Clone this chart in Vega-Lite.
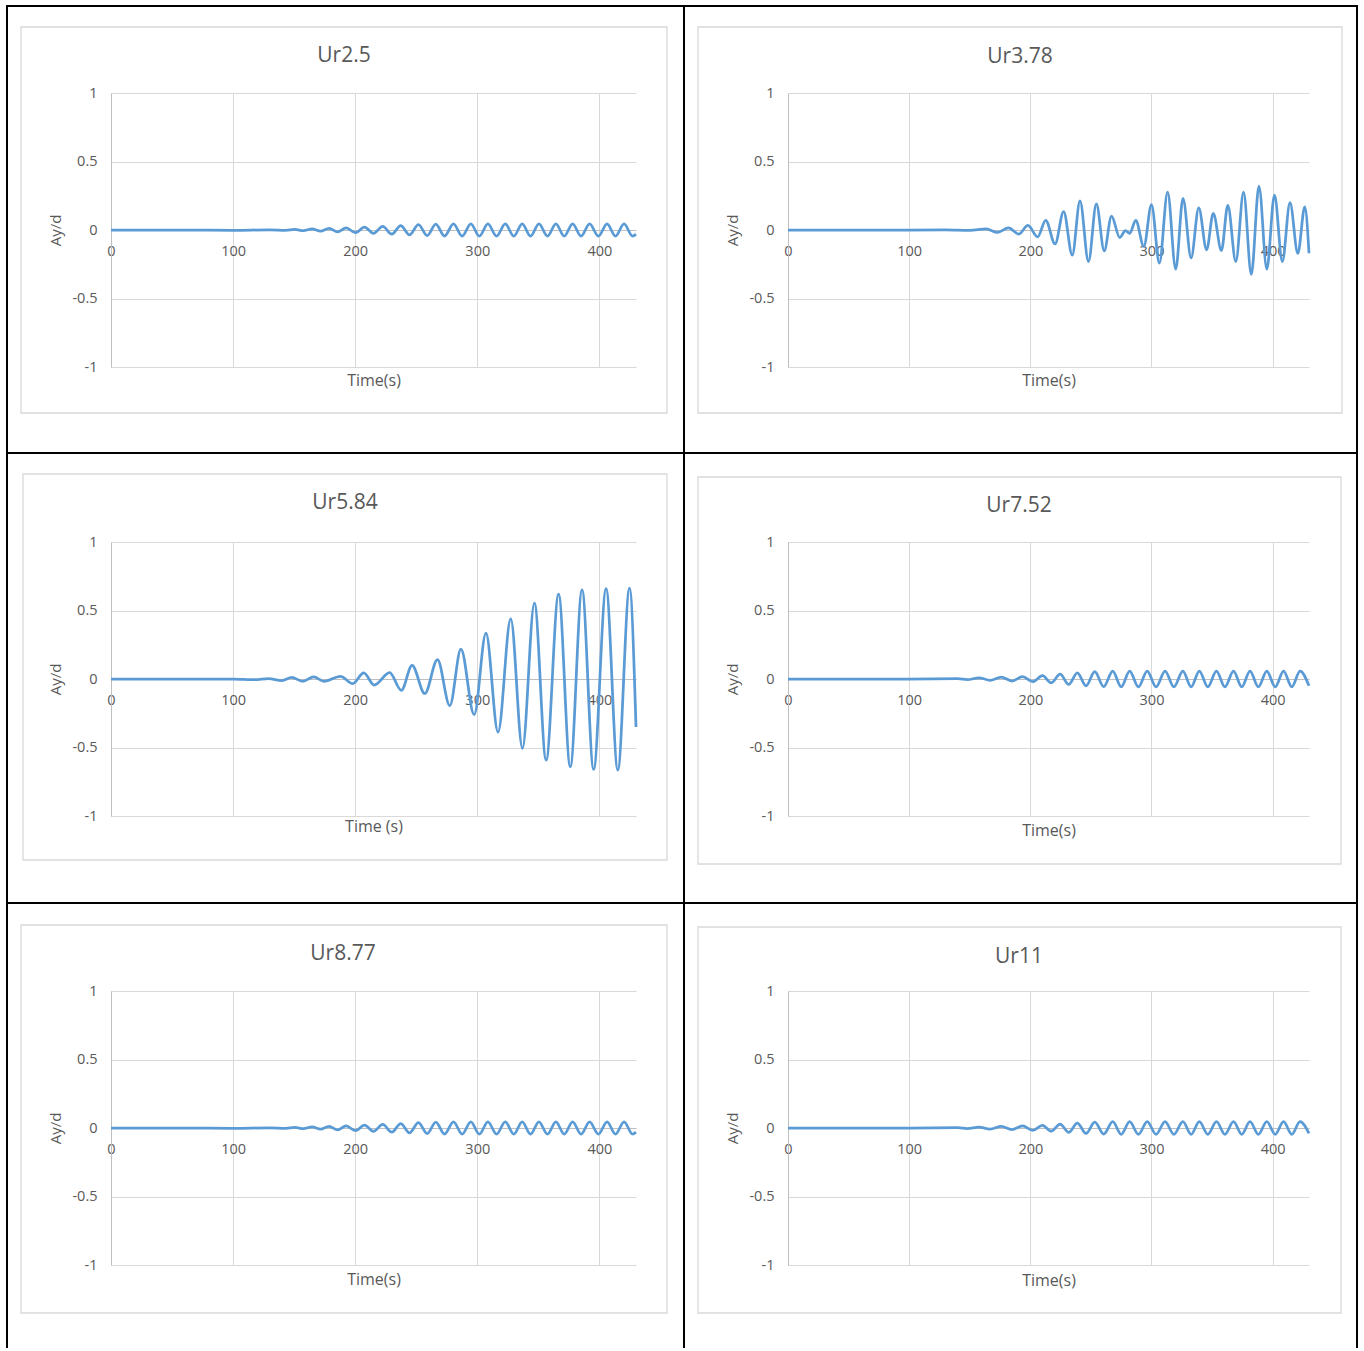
{
  "$schema": "https://vega.github.io/schema/vega-lite/v6.json",
  "background": "white",
  "padding": {"left": 6, "top": 5, "right": 0, "bottom": 0},
  "columns": 2,
  "spacing": {"row": 175, "column": 152},
  "bounds": "flush",
  "datasets": {
    "one": [{}],
    "p1": [
      {"t": 0, "y": 0}, {"t": 60, "y": 0}, {"t": 100, "y": -0.002}, {"t": 130, "y": 0.001}, {"t": 143, "y": -0.003},
      {"t": 150.6, "y": 0.004}, {"t": 157.6, "y": -0.005}, {"t": 164.6, "y": 0.008}, {"t": 171.6, "y": -0.009},
      {"t": 178.6, "y": 0.012}, {"t": 185.6, "y": -0.013}, {"t": 192.6, "y": 0.016}, {"t": 200.1, "y": -0.02},
      {"t": 207.7, "y": 0.021}, {"t": 215, "y": -0.024}, {"t": 222.5, "y": 0.026}, {"t": 230, "y": -0.03},
      {"t": 237.3, "y": 0.032}, {"t": 244.5, "y": -0.036}, {"t": 251.8, "y": 0.039}, {"t": 259, "y": -0.041},
      {"t": 266, "y": 0.043}, {"t": 273.2, "y": -0.044}, {"t": 280.5, "y": 0.045}, {"t": 287.6, "y": -0.045},
      {"t": 294.7, "y": 0.045}, {"t": 301.7, "y": -0.045}, {"t": 308.7, "y": 0.045}, {"t": 315.8, "y": -0.045},
      {"t": 322.9, "y": 0.045}, {"t": 329.9, "y": -0.045}, {"t": 336.8, "y": 0.045}, {"t": 343.6, "y": -0.045},
      {"t": 350.5, "y": 0.045}, {"t": 357.5, "y": -0.045}, {"t": 364.4, "y": 0.045}, {"t": 371.2, "y": -0.045},
      {"t": 378.1, "y": 0.045}, {"t": 385, "y": -0.045}, {"t": 392, "y": 0.045}, {"t": 399.2, "y": -0.045},
      {"t": 406.3, "y": 0.045}, {"t": 413.2, "y": -0.045}, {"t": 420.2, "y": 0.045}, {"t": 427.2, "y": -0.045},
      {"t": 430, "y": -0.03}
    ],
    "p2": [
      {"t": 0, "y": 0}, {"t": 100, "y": 0}, {"t": 130, "y": 0.001}, {"t": 150, "y": -0.003}, {"t": 163.5, "y": 0.008},
      {"t": 173, "y": -0.018}, {"t": 182, "y": 0.015}, {"t": 190.5, "y": -0.03}, {"t": 198, "y": 0.033},
      {"t": 206, "y": -0.05}, {"t": 212.7, "y": 0.071}, {"t": 220.4, "y": -0.102}, {"t": 227.5, "y": 0.135},
      {"t": 234.6, "y": -0.184}, {"t": 241, "y": 0.212}, {"t": 248, "y": -0.23}, {"t": 254.5, "y": 0.191},
      {"t": 261, "y": -0.153}, {"t": 267, "y": 0.102}, {"t": 273.8, "y": -0.055}, {"t": 278.5, "y": -0.005},
      {"t": 282, "y": -0.025}, {"t": 287, "y": 0.07}, {"t": 293.7, "y": -0.12}, {"t": 300, "y": 0.186},
      {"t": 306.5, "y": -0.242}, {"t": 313.3, "y": 0.276}, {"t": 320, "y": -0.286}, {"t": 326, "y": 0.23},
      {"t": 332.7, "y": -0.204}, {"t": 339, "y": 0.161}, {"t": 345.5, "y": -0.145}, {"t": 351, "y": 0.122},
      {"t": 357.7, "y": -0.15}, {"t": 363, "y": 0.179}, {"t": 369.6, "y": -0.23}, {"t": 376, "y": 0.276},
      {"t": 382.4, "y": -0.324}, {"t": 388.7, "y": 0.321}, {"t": 395.2, "y": -0.286}, {"t": 401.5, "y": 0.255},
      {"t": 408, "y": -0.23}, {"t": 414.3, "y": 0.199}, {"t": 420.8, "y": -0.171}, {"t": 426.5, "y": 0.168},
      {"t": 430, "y": -0.17}
    ],
    "p3": [
      {"t": 0, "y": 0}, {"t": 100, "y": 0}, {"t": 118, "y": -0.005}, {"t": 129, "y": 0.003}, {"t": 140, "y": -0.012},
      {"t": 148, "y": 0.012}, {"t": 157, "y": -0.017}, {"t": 166, "y": 0.015}, {"t": 174.5, "y": -0.017},
      {"t": 188, "y": 0.02}, {"t": 198, "y": -0.034}, {"t": 207, "y": 0.044}, {"t": 215.6, "y": -0.044},
      {"t": 228.2, "y": 0.046}, {"t": 237.8, "y": -0.083}, {"t": 246.6, "y": 0.1}, {"t": 257, "y": -0.107},
      {"t": 267.4, "y": 0.141}, {"t": 277.5, "y": -0.194}, {"t": 286.6, "y": 0.218}, {"t": 297.5, "y": -0.26},
      {"t": 307.1, "y": 0.335}, {"t": 317, "y": -0.388}, {"t": 327.4, "y": 0.439}, {"t": 337, "y": -0.507},
      {"t": 346.8, "y": 0.553}, {"t": 356.4, "y": -0.592}, {"t": 366.6, "y": 0.619}, {"t": 376.2, "y": -0.641},
      {"t": 385.8, "y": 0.65}, {"t": 395.3, "y": -0.66}, {"t": 405.5, "y": 0.66}, {"t": 415.1, "y": -0.665},
      {"t": 424.7, "y": 0.663}, {"t": 430, "y": -0.35}
    ],
    "p4": [
      {"t": 0, "y": 0}, {"t": 100, "y": 0}, {"t": 140, "y": 0.002}, {"t": 148, "y": -0.005}, {"t": 157.6, "y": 0.009},
      {"t": 166.8, "y": -0.01}, {"t": 176, "y": 0.014}, {"t": 184.8, "y": -0.015}, {"t": 193.6, "y": 0.018},
      {"t": 202, "y": -0.02}, {"t": 210, "y": 0.024}, {"t": 217.3, "y": -0.028}, {"t": 224.6, "y": 0.035},
      {"t": 231.7, "y": -0.04}, {"t": 238.8, "y": 0.045}, {"t": 246, "y": -0.05}, {"t": 253.2, "y": 0.053},
      {"t": 260.6, "y": -0.056}, {"t": 268, "y": 0.058}, {"t": 275, "y": -0.058}, {"t": 282, "y": 0.058},
      {"t": 289.2, "y": -0.058}, {"t": 296.5, "y": 0.058}, {"t": 303.8, "y": -0.058}, {"t": 311.2, "y": 0.058},
      {"t": 318.5, "y": -0.058}, {"t": 325.9, "y": 0.058}, {"t": 332.7, "y": -0.058}, {"t": 339.5, "y": 0.058},
      {"t": 346.5, "y": -0.058}, {"t": 353.6, "y": 0.058}, {"t": 360.6, "y": -0.058}, {"t": 367.7, "y": 0.058},
      {"t": 374.5, "y": -0.058}, {"t": 381.3, "y": 0.058}, {"t": 388.2, "y": -0.058}, {"t": 395.2, "y": 0.058},
      {"t": 402.1, "y": -0.058}, {"t": 409, "y": 0.058}, {"t": 415.8, "y": -0.058}, {"t": 422.6, "y": 0.058},
      {"t": 430, "y": -0.05}
    ],
    "p5": [
      {"t": 0, "y": 0}, {"t": 60, "y": 0}, {"t": 100, "y": -0.002}, {"t": 130, "y": 0.001}, {"t": 143, "y": -0.003},
      {"t": 150.6, "y": 0.004}, {"t": 157.6, "y": -0.005}, {"t": 164.6, "y": 0.008}, {"t": 171.6, "y": -0.009},
      {"t": 178.6, "y": 0.012}, {"t": 185.6, "y": -0.013}, {"t": 192.6, "y": 0.016}, {"t": 200.1, "y": -0.02},
      {"t": 207.7, "y": 0.021}, {"t": 215, "y": -0.024}, {"t": 222.5, "y": 0.026}, {"t": 230, "y": -0.03},
      {"t": 237.3, "y": 0.032}, {"t": 244.5, "y": -0.036}, {"t": 251.8, "y": 0.039}, {"t": 259, "y": -0.041},
      {"t": 266, "y": 0.043}, {"t": 273.2, "y": -0.044}, {"t": 280.5, "y": 0.045}, {"t": 287.6, "y": -0.045},
      {"t": 294.7, "y": 0.045}, {"t": 301.7, "y": -0.045}, {"t": 308.7, "y": 0.045}, {"t": 315.8, "y": -0.045},
      {"t": 322.9, "y": 0.045}, {"t": 329.9, "y": -0.045}, {"t": 336.8, "y": 0.045}, {"t": 343.6, "y": -0.045},
      {"t": 350.5, "y": 0.045}, {"t": 357.5, "y": -0.045}, {"t": 364.4, "y": 0.045}, {"t": 371.2, "y": -0.045},
      {"t": 378.1, "y": 0.045}, {"t": 385, "y": -0.045}, {"t": 392, "y": 0.045}, {"t": 399.2, "y": -0.045},
      {"t": 406.3, "y": 0.045}, {"t": 413.2, "y": -0.045}, {"t": 420.2, "y": 0.045}, {"t": 427.2, "y": -0.045},
      {"t": 430, "y": -0.03}
    ],
    "p6": [
      {"t": 0, "y": 0}, {"t": 100, "y": 0}, {"t": 140, "y": 0.002}, {"t": 148, "y": -0.004}, {"t": 157.6, "y": 0.007},
      {"t": 166.8, "y": -0.008}, {"t": 176, "y": 0.011}, {"t": 184.8, "y": -0.012}, {"t": 193.6, "y": 0.015},
      {"t": 202, "y": -0.017}, {"t": 210, "y": 0.02}, {"t": 217.3, "y": -0.023}, {"t": 224.6, "y": 0.028},
      {"t": 231.7, "y": -0.032}, {"t": 238.8, "y": 0.036}, {"t": 246, "y": -0.04}, {"t": 253.2, "y": 0.042},
      {"t": 260.6, "y": -0.045}, {"t": 268, "y": 0.046}, {"t": 275, "y": -0.046}, {"t": 282, "y": 0.046},
      {"t": 289.2, "y": -0.046}, {"t": 296.5, "y": 0.046}, {"t": 303.8, "y": -0.046}, {"t": 311.2, "y": 0.046},
      {"t": 318.5, "y": -0.046}, {"t": 325.9, "y": 0.046}, {"t": 332.7, "y": -0.046}, {"t": 339.5, "y": 0.046},
      {"t": 346.5, "y": -0.046}, {"t": 353.6, "y": 0.046}, {"t": 360.6, "y": -0.046}, {"t": 367.7, "y": 0.046},
      {"t": 374.5, "y": -0.046}, {"t": 381.3, "y": 0.046}, {"t": 388.2, "y": -0.046}, {"t": 395.2, "y": 0.046},
      {"t": 402.1, "y": -0.046}, {"t": 409, "y": 0.046}, {"t": 415.8, "y": -0.046}, {"t": 422.6, "y": 0.046},
      {"t": 430, "y": -0.04}
    ]
  },
  "concat": [
    {
      "width": 525, "height": 274,
      "layer": [
        {"data": {"name": "one"}, "mark": {"type": "rect", "filled": false, "stroke": "#000000", "strokeWidth": 2},
         "encoding": {"x": {"datum": -85.18, "type": "quantitative", "scale": {"domain": [0, 430], "nice": false, "zero": false}}, "x2": {"datum": 469.31},
                      "y": {"datum": 1.635, "type": "quantitative", "scale": {"domain": [-1, 1], "nice": false, "zero": false}}, "y2": {"datum": -1.6277}}},
        {"data": {"name": "one"}, "mark": {"type": "rect", "filled": false, "stroke": "#d9d9d9", "strokeWidth": 1.3},
         "encoding": {"x": {"datum": -73.71, "type": "quantitative", "scale": {"domain": [0, 430], "nice": false, "zero": false}}, "x2": {"datum": 455.38},
                      "y": {"datum": 1.4818, "type": "quantitative", "scale": {"domain": [-1, 1], "nice": false, "zero": false}}, "y2": {"datum": -1.3358}}},
        {"data": {"name": "one"}, "mark": {"type": "text", "text": "Ur2.5", "fontSize": 21, "color": "#595959", "font": "Open Sans", "baseline": "middle", "align": "center"},
         "encoding": {"x": {"datum": 190.84, "type": "quantitative", "scale": {"domain": [0, 430], "nice": false, "zero": false}},
                      "y": {"datum": 1.2701, "type": "quantitative", "scale": {"domain": [-1, 1], "nice": false, "zero": false}}}},
        {"data": {"name": "p1"},
         "mark": {"type": "line", "color": "#5b9bd5", "strokeWidth": 2.75, "interpolate": "monotone"},
         "encoding": {
           "x": {"field": "t", "type": "quantitative", "scale": {"domain": [0, 430], "nice": false, "zero": false},
                 "axis": {"values": [0, 100, 200, 300, 400], "labelExpr": "'' + datum.value", "title": "Time(s)", "offset": -137, "titleY": 150, "titleBaseline": "middle", "grid": true}},
           "y": {"field": "y", "type": "quantitative", "scale": {"domain": [-1, 1], "nice": false, "zero": false},
                 "axis": {"values": [-1, -0.5, 0, 0.5, 1], "labelExpr": "'' + datum.value", "title": "Ay/d", "titleX": -56, "titleBaseline": "middle", "grid": true}}
         }}
      ]
    },
    {
      "width": 521, "height": 274,
      "layer": [
        {"data": {"name": "one"}, "mark": {"type": "rect", "filled": false, "stroke": "#000000", "strokeWidth": 2},
         "encoding": {"x": {"datum": -85.83, "type": "quantitative", "scale": {"domain": [0, 430], "nice": false, "zero": false}}, "x2": {"datum": 469.62},
                      "y": {"datum": 1.635, "type": "quantitative", "scale": {"domain": [-1, 1], "nice": false, "zero": false}}, "y2": {"datum": -1.6277}}},
        {"data": {"name": "one"}, "mark": {"type": "rect", "filled": false, "stroke": "#d9d9d9", "strokeWidth": 1.3},
         "encoding": {"x": {"datum": -74.28, "type": "quantitative", "scale": {"domain": [0, 430], "nice": false, "zero": false}}, "x2": {"datum": 457.24},
                      "y": {"datum": 1.4818, "type": "quantitative", "scale": {"domain": [-1, 1], "nice": false, "zero": false}}, "y2": {"datum": -1.3358}}},
        {"data": {"name": "one"}, "mark": {"type": "text", "text": "Ur3.78", "fontSize": 21, "color": "#595959", "font": "Open Sans", "baseline": "middle", "align": "center"},
         "encoding": {"x": {"datum": 191.48, "type": "quantitative", "scale": {"domain": [0, 430], "nice": false, "zero": false}},
                      "y": {"datum": 1.2628, "type": "quantitative", "scale": {"domain": [-1, 1], "nice": false, "zero": false}}}},
        {"data": {"name": "p2"},
         "mark": {"type": "line", "color": "#5b9bd5", "strokeWidth": 2.75, "interpolate": "monotone"},
         "encoding": {
           "x": {"field": "t", "type": "quantitative", "scale": {"domain": [0, 430], "nice": false, "zero": false},
                 "axis": {"values": [0, 100, 200, 300, 400], "labelExpr": "'' + datum.value", "title": "Time(s)", "offset": -137, "titleY": 150, "titleBaseline": "middle", "grid": true}},
           "y": {"field": "y", "type": "quantitative", "scale": {"domain": [-1, 1], "nice": false, "zero": false},
                 "axis": {"values": [-1, -0.5, 0, 0.5, 1], "labelExpr": "'' + datum.value", "title": "Ay/d", "titleX": -56, "titleBaseline": "middle", "grid": true}}
         }}
      ]
    },
    {
      "width": 525, "height": 274,
      "layer": [
        {"data": {"name": "one"}, "mark": {"type": "rect", "filled": false, "stroke": "#000000", "strokeWidth": 2},
         "encoding": {"x": {"datum": -85.18, "type": "quantitative", "scale": {"domain": [0, 430], "nice": false, "zero": false}}, "x2": {"datum": 469.31},
                      "y": {"datum": 1.6496, "type": "quantitative", "scale": {"domain": [-1, 1], "nice": false, "zero": false}}, "y2": {"datum": -1.635}}},
        {"data": {"name": "one"}, "mark": {"type": "rect", "filled": false, "stroke": "#d9d9d9", "strokeWidth": 1.3},
         "encoding": {"x": {"datum": -72.08, "type": "quantitative", "scale": {"domain": [0, 430], "nice": false, "zero": false}}, "x2": {"datum": 455.38},
                      "y": {"datum": 1.4964, "type": "quantitative", "scale": {"domain": [-1, 1], "nice": false, "zero": false}}, "y2": {"datum": -1.3212}}},
        {"data": {"name": "one"}, "mark": {"type": "text", "text": "Ur5.84", "fontSize": 21, "color": "#595959", "font": "Open Sans", "baseline": "middle", "align": "center"},
         "encoding": {"x": {"datum": 191.66, "type": "quantitative", "scale": {"domain": [0, 430], "nice": false, "zero": false}},
                      "y": {"datum": 1.2847, "type": "quantitative", "scale": {"domain": [-1, 1], "nice": false, "zero": false}}}},
        {"data": {"name": "p3"},
         "mark": {"type": "line", "color": "#5b9bd5", "strokeWidth": 2.75, "interpolate": "monotone"},
         "encoding": {
           "x": {"field": "t", "type": "quantitative", "scale": {"domain": [0, 430], "nice": false, "zero": false},
                 "axis": {"values": [0, 100, 200, 300, 400], "labelExpr": "'' + datum.value", "title": "Time (s)", "offset": -137, "titleY": 147, "titleBaseline": "middle", "grid": true}},
           "y": {"field": "y", "type": "quantitative", "scale": {"domain": [-1, 1], "nice": false, "zero": false},
                 "axis": {"values": [-1, -0.5, 0, 0.5, 1], "labelExpr": "'' + datum.value", "title": "Ay/d", "titleX": -56, "titleBaseline": "middle", "grid": true}}
         }}
      ]
    },
    {
      "width": 521, "height": 274,
      "layer": [
        {"data": {"name": "one"}, "mark": {"type": "rect", "filled": false, "stroke": "#000000", "strokeWidth": 2},
         "encoding": {"x": {"datum": -85.83, "type": "quantitative", "scale": {"domain": [0, 430], "nice": false, "zero": false}}, "x2": {"datum": 469.62},
                      "y": {"datum": 1.6496, "type": "quantitative", "scale": {"domain": [-1, 1], "nice": false, "zero": false}}, "y2": {"datum": -1.635}}},
        {"data": {"name": "one"}, "mark": {"type": "rect", "filled": false, "stroke": "#d9d9d9", "strokeWidth": 1.3},
         "encoding": {"x": {"datum": -74.28, "type": "quantitative", "scale": {"domain": [0, 430], "nice": false, "zero": false}}, "x2": {"datum": 456.41},
                      "y": {"datum": 1.4745, "type": "quantitative", "scale": {"domain": [-1, 1], "nice": false, "zero": false}}, "y2": {"datum": -1.3504}}},
        {"data": {"name": "one"}, "mark": {"type": "text", "text": "Ur7.52", "fontSize": 21, "color": "#595959", "font": "Open Sans", "baseline": "middle", "align": "center"},
         "encoding": {"x": {"datum": 190.65, "type": "quantitative", "scale": {"domain": [0, 430], "nice": false, "zero": false}},
                      "y": {"datum": 1.2628, "type": "quantitative", "scale": {"domain": [-1, 1], "nice": false, "zero": false}}}},
        {"data": {"name": "p4"},
         "mark": {"type": "line", "color": "#5b9bd5", "strokeWidth": 2.75, "interpolate": "monotone"},
         "encoding": {
           "x": {"field": "t", "type": "quantitative", "scale": {"domain": [0, 430], "nice": false, "zero": false},
                 "axis": {"values": [0, 100, 200, 300, 400], "labelExpr": "'' + datum.value", "title": "Time(s)", "offset": -137, "titleY": 151, "titleBaseline": "middle", "grid": true}},
           "y": {"field": "y", "type": "quantitative", "scale": {"domain": [-1, 1], "nice": false, "zero": false},
                 "axis": {"values": [-1, -0.5, 0, 0.5, 1], "labelExpr": "'' + datum.value", "title": "Ay/d", "titleX": -56, "titleBaseline": "middle", "grid": true}}
         }}
      ]
    },
    {
      "width": 525, "height": 274,
      "layer": [
        {"data": {"name": "one"}, "mark": {"type": "rule", "stroke": "#000000", "strokeWidth": 2},
         "encoding": {"x": {"datum": -85.18, "type": "quantitative", "scale": {"domain": [0, 430], "nice": false, "zero": false}},
                      "y": {"datum": 1.6423, "type": "quantitative", "scale": {"domain": [-1, 1], "nice": false, "zero": false}}, "y2": {"datum": -1.6058}}},
        {"data": {"name": "one"}, "mark": {"type": "rule", "stroke": "#000000", "strokeWidth": 2},
         "encoding": {"x": {"datum": 469.31, "type": "quantitative", "scale": {"domain": [0, 430], "nice": false, "zero": false}},
                      "y": {"datum": 1.6423, "type": "quantitative", "scale": {"domain": [-1, 1], "nice": false, "zero": false}}, "y2": {"datum": -1.6058}}},
        {"data": {"name": "one"}, "mark": {"type": "rect", "filled": false, "stroke": "#d9d9d9", "strokeWidth": 1.3},
         "encoding": {"x": {"datum": -73.71, "type": "quantitative", "scale": {"domain": [0, 430], "nice": false, "zero": false}}, "x2": {"datum": 455.38},
                      "y": {"datum": 1.4818, "type": "quantitative", "scale": {"domain": [-1, 1], "nice": false, "zero": false}}, "y2": {"datum": -1.3504}}},
        {"data": {"name": "one"}, "mark": {"type": "text", "text": "Ur8.77", "fontSize": 21, "color": "#595959", "font": "Open Sans", "baseline": "middle", "align": "center"},
         "encoding": {"x": {"datum": 190.02, "type": "quantitative", "scale": {"domain": [0, 430], "nice": false, "zero": false}},
                      "y": {"datum": 1.2701, "type": "quantitative", "scale": {"domain": [-1, 1], "nice": false, "zero": false}}}},
        {"data": {"name": "p5"},
         "mark": {"type": "line", "color": "#5b9bd5", "strokeWidth": 2.75, "interpolate": "monotone"},
         "encoding": {
           "x": {"field": "t", "type": "quantitative", "scale": {"domain": [0, 430], "nice": false, "zero": false},
                 "axis": {"values": [0, 100, 200, 300, 400], "labelExpr": "'' + datum.value", "title": "Time(s)", "offset": -137, "titleY": 151, "titleBaseline": "middle", "grid": true}},
           "y": {"field": "y", "type": "quantitative", "scale": {"domain": [-1, 1], "nice": false, "zero": false},
                 "axis": {"values": [-1, -0.5, 0, 0.5, 1], "labelExpr": "'' + datum.value", "title": "Ay/d", "titleX": -56, "titleBaseline": "middle", "grid": true}}
         }}
      ]
    },
    {
      "width": 521, "height": 274,
      "layer": [
        {"data": {"name": "one"}, "mark": {"type": "rule", "stroke": "#000000", "strokeWidth": 2},
         "encoding": {"x": {"datum": -85.83, "type": "quantitative", "scale": {"domain": [0, 430], "nice": false, "zero": false}},
                      "y": {"datum": 1.6423, "type": "quantitative", "scale": {"domain": [-1, 1], "nice": false, "zero": false}}, "y2": {"datum": -1.6058}}},
        {"data": {"name": "one"}, "mark": {"type": "rule", "stroke": "#000000", "strokeWidth": 2},
         "encoding": {"x": {"datum": 469.62, "type": "quantitative", "scale": {"domain": [0, 430], "nice": false, "zero": false}},
                      "y": {"datum": 1.6423, "type": "quantitative", "scale": {"domain": [-1, 1], "nice": false, "zero": false}}, "y2": {"datum": -1.6058}}},
        {"data": {"name": "one"}, "mark": {"type": "rect", "filled": false, "stroke": "#d9d9d9", "strokeWidth": 1.3},
         "encoding": {"x": {"datum": -74.28, "type": "quantitative", "scale": {"domain": [0, 430], "nice": false, "zero": false}}, "x2": {"datum": 456.41},
                      "y": {"datum": 1.4672, "type": "quantitative", "scale": {"domain": [-1, 1], "nice": false, "zero": false}}, "y2": {"datum": -1.3504}}},
        {"data": {"name": "one"}, "mark": {"type": "text", "text": "Ur11", "fontSize": 21, "color": "#595959", "font": "Open Sans", "baseline": "middle", "align": "center"},
         "encoding": {"x": {"datum": 190.65, "type": "quantitative", "scale": {"domain": [0, 430], "nice": false, "zero": false}},
                      "y": {"datum": 1.2482, "type": "quantitative", "scale": {"domain": [-1, 1], "nice": false, "zero": false}}}},
        {"data": {"name": "p6"},
         "mark": {"type": "line", "color": "#5b9bd5", "strokeWidth": 2.75, "interpolate": "monotone"},
         "encoding": {
           "x": {"field": "t", "type": "quantitative", "scale": {"domain": [0, 430], "nice": false, "zero": false},
                 "axis": {"values": [0, 100, 200, 300, 400], "labelExpr": "'' + datum.value", "title": "Time(s)", "offset": -137, "titleY": 152, "titleBaseline": "middle", "grid": true}},
           "y": {"field": "y", "type": "quantitative", "scale": {"domain": [-1, 1], "nice": false, "zero": false},
                 "axis": {"values": [-1, -0.5, 0, 0.5, 1], "labelExpr": "'' + datum.value", "title": "Ay/d", "titleX": -56, "titleBaseline": "middle", "grid": true}}
         }}
      ]
    }
  ],
  "config": {
    "view": {"stroke": null},
    "font": "Open Sans",
    "axis": {
      "labelFont": "Open Sans", "labelFontSize": 14.5, "labelColor": "#595959",
      "titleFont": "Open Sans", "titleFontWeight": "normal", "titleColor": "#595959",
      "gridColor": "#d9d9d9", "gridWidth": 1, "domainColor": "#bfbfbf", "domainWidth": 1,
      "ticks": false, "tickSize": 0, "labelPadding": 14, "labelFlush": false, "labelOverlap": false, "labelBound": false
    },
    "axisX": {"titleFontSize": 16},
    "axisY": {"titleFontSize": 15}
  }
}
